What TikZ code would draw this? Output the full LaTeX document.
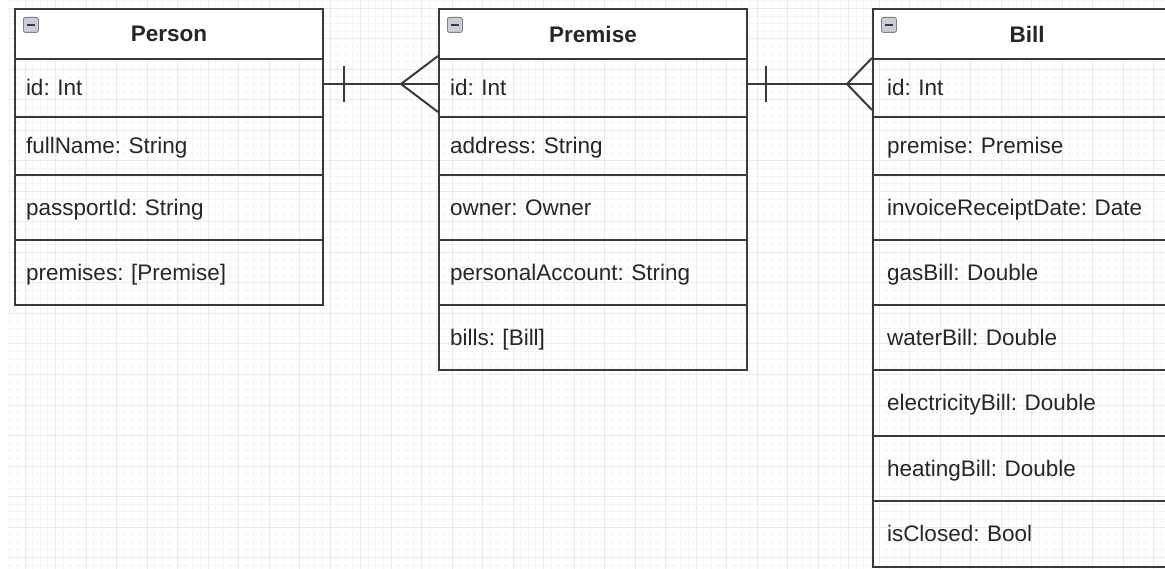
\documentclass[tikz,border=0pt]{standalone}
\usepackage{fontspec}
\setmainfont{Liberation Sans}
\frenchspacing
\usetikzlibrary{positioning}

\definecolor{linec}{HTML}{3A3A3A}
\definecolor{textc}{HTML}{262626}
\definecolor{minorc}{HTML}{F5F5F5}
\definecolor{majorc}{HTML}{EAEAEA}
\definecolor{iconc}{HTML}{C9CED6}

\newcommand{\boxfont}{\fontsize{22.5}{26}\selectfont}

\tikzset{
  hdr/.style={draw=linec, line width=2pt, fill=white, anchor=north west,
    minimum width=308pt, minimum height=50pt, inner sep=0pt, font=\boxfont\bfseries},
  fld/.style={draw=linec, line width=2pt, anchor=north west, minimum width=308pt,
    text width=286pt, inner xsep=11pt, inner ysep=0pt, align=left,
    text height=16pt, text depth=0pt},
  icon/.style={draw=gray, fill=iconc, line width=0.8pt, rounded corners=2pt,
    anchor=north west, minimum size=15pt, inner sep=0pt},
  minus/.style={draw=linec, line width=1.6pt},
  conn/.style={draw=linec, line width=2pt},
  minorgrid/.style={draw=minorc, line width=1pt},
  majorgrid/.style={draw=majorc, line width=1pt},
}

\begin{document}
\begin{tikzpicture}[x=1pt, y=-1pt, font=\boxfont, text=textc]
\useasboundingbox (0,0) rectangle (1165,569);
\clip (0,0) rectangle (1165,569);

% background grid
\begin{scope}
\clip (7,0) rectangle (1165,569);
\foreach \i in {0,...,154} {
  \draw[minorgrid] ({-5.5+7.625*\i},0) -- ({-5.5+7.625*\i},569);
}
\foreach \i in {-2,...,75} {
  \draw[minorgrid] (0,{8.5+7.625*\i}) -- (1165,{8.5+7.625*\i});
}
\foreach \i in {0,...,39} {
  \draw[majorgrid] ({-5.5+30.5*\i},0) -- ({-5.5+30.5*\i},569);
}
\foreach \i in {0,...,19} {
  \draw[majorgrid] (0,{8.5+30.5*\i}) -- (1165,{8.5+30.5*\i});
}
\end{scope}

% Person
\node[fld, minimum height=58pt] (person-id) at (14,58) {id: Int};
\node[fld, minimum height=58pt] (person-name) at (14,116) {fullName: String};
\node[fld, minimum height=65pt] (person-passport) at (14,174) {passportId: String};
\node[fld, minimum height=65pt] (person-premises) at (14,239) {premises: [Premise]};
\node[hdr] (person-head) at (14,8) {Person};
\node[icon] (person-icon) at ([shift={(9,9)}]person-head.north west) {};
\draw[minus] ([xshift=-4pt]person-icon.center) -- ([xshift=4pt]person-icon.center);

% Premise
\node[fld, minimum height=58pt] (premise-id) at (438,58) {id: Int};
\node[fld, minimum height=58pt] (premise-address) at (438,116) {address: String};
\node[fld, minimum height=65pt] (premise-owner) at (438,174) {owner: Owner};
\node[fld, minimum height=65pt] (premise-account) at (438,239) {personalAccount: String};
\node[fld, minimum height=65pt] (premise-bills) at (438,304) {bills: [Bill]};
\node[hdr] (premise-head) at (438,8) {Premise};
\node[icon] (premise-icon) at ([shift={(9,9)}]premise-head.north west) {};
\draw[minus] ([xshift=-4pt]premise-icon.center) -- ([xshift=4pt]premise-icon.center);

% Bill
\tikzset{billfld/.style={fld, inner xsep=14pt, text width=280pt}}
\node[billfld, minimum height=58pt] (bill-id) at (872,58) {id: Int};
\node[billfld, minimum height=58pt] (bill-premise) at (872,116) {premise: Premise};
\node[billfld, minimum height=65pt] (bill-date) at (872,174) {invoiceReceiptDate: Date};
\node[billfld, minimum height=65pt] (bill-gas) at (872,239) {gasBill: Double};
\node[billfld, minimum height=65pt] (bill-water) at (872,304) {waterBill: Double};
\node[billfld, minimum height=65.5pt] (bill-power) at (872,369) {electricityBill: Double};
\node[billfld, minimum height=65.5pt] (bill-heat) at (872,434.5) {heatingBill: Double};
\node[billfld, minimum height=65.5pt] (bill-closed) at (872,500) {isClosed: Bool};
\node[hdr] (bill-head) at (872,8) {Bill};
\node[icon] (bill-icon) at ([shift={(9,9)}]bill-head.north west) {};
\draw[minus] ([xshift=-4pt]bill-icon.center) -- ([xshift=4pt]bill-icon.center);

% one-to-many links
\draw[conn] ([yshift=4pt]person-id.east) coordinate (pp-a) -- ([yshift=4pt]premise-id.west) coordinate (pp-b);
\draw[conn] ([shift={(20,-18)}]pp-a) -- ([shift={(20,18)}]pp-a);
\draw[conn] ([shift={(0,-28)}]pp-b) -- ([shift={(-37,0)}]pp-b) -- ([shift={(0,28)}]pp-b);

\draw[conn] ([yshift=4pt]premise-id.east) coordinate (pb-a) -- ([yshift=4pt]bill-id.west) coordinate (pb-b);
\draw[conn] ([shift={(18,-18)}]pb-a) -- ([shift={(18,18)}]pb-a);
\draw[conn] ([shift={(0,-26)}]pb-b) -- ([shift={(-25,0)}]pb-b) -- ([shift={(0,26)}]pb-b);
\end{tikzpicture}
\end{document}
